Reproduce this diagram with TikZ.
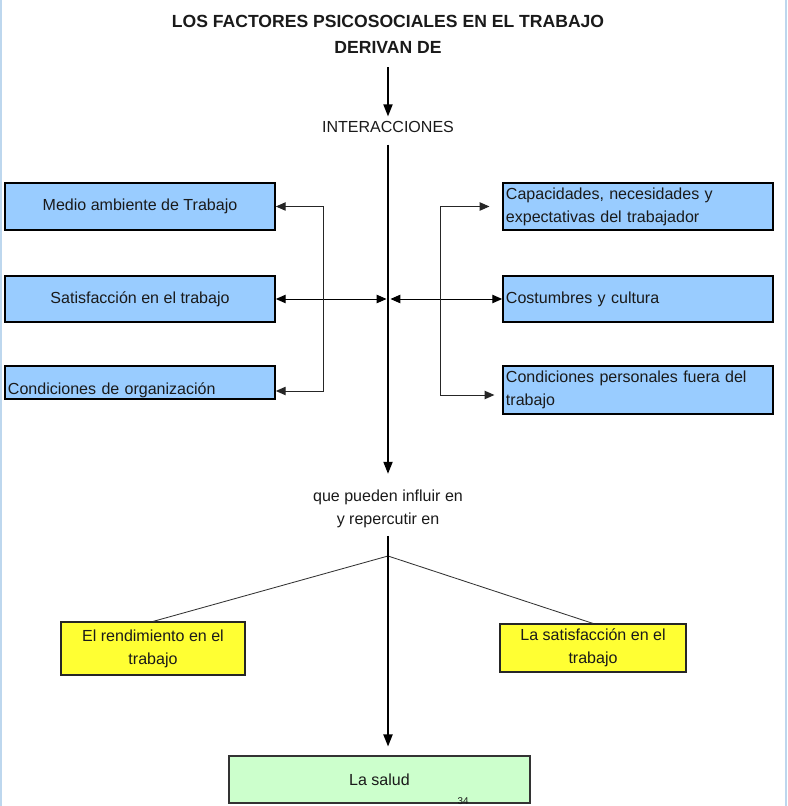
\documentclass[tikz,border=0pt]{standalone}
\usepackage{fontspec}
\setmainfont{Liberation Sans}
\usetikzlibrary{arrows.meta, positioning, calc}
\definecolor{boxblue}{HTML}{99CCFF}
\definecolor{boxyellow}{HTML}{FFFF33}
\definecolor{boxgreen}{HTML}{CCFFCC}
\definecolor{edgeblue}{HTML}{BDD7EE}
\definecolor{ink}{HTML}{1A1A1A}

\begin{document}
\begin{tikzpicture}[x=0.025cm, y=-0.025cm,
  >={Triangle[length=7pt, width=6pt]},
  txt/.style={text=ink, font=\fontsize{11.4}{16.4}\selectfont},
  bluebox/.style={txt, draw=black, line width=1.2pt, fill=boxblue, minimum width=6.75cm, inner sep=0pt},
  leftbox/.style={bluebox, text width=6.6cm, align=left},
  ybox/.style={txt, draw=black!85, line width=0.8pt, fill=boxyellow, align=center, inner sep=0pt},
  link/.style={->, line width=0.7pt, black!85},
  bothway/.style={<->, line width=0.7pt, black},
  spine/.style={line width=1pt, black},
  bigtip/.style={-{Triangle[length=8.5pt, width=6.5pt]}},
  branch/.style={line width=0.6pt, black!80}]

% Background
\useasboundingbox (0,0) rectangle (787,806);
\fill[white] (0,0) rectangle (787,806);
\draw[edgeblue, line width=1.5pt] (1,0) -- (1,806);
\draw[edgeblue, line width=1.5pt] (786,0) -- (786,806);

% Title
\node[text=ink, font=\fontsize{12.5}{18.5}\selectfont\bfseries, align=center] (title) at (388,34.5)
  {LOS FACTORES PSICOSOCIALES EN EL TRABAJO\\DERIVAN DE};
\node[txt] (inter) at (388,127) {INTERACCIONES};
\draw[spine, bigtip] ([yshift=-6pt]title.south) -- (inter.north);

% --- Left factors ---
\node[bluebox, minimum height=1.175cm] (medio) at (140,206.5) {Medio ambiente de Trabajo};
\node[bluebox, minimum height=1.15cm] (satisf) at (140,299) {Satisfacción en el trabajo};
\node[leftbox, minimum height=0.825cm, text height=17pt, text depth=0pt] (organiz) at (140,382.5) {Condiciones de organización};

% --- Right factors ---
\node[leftbox, minimum height=1.175cm] (capac) at (638,206.5) {Capacidades, necesidades y\\expectativas del trabajador};
\node[leftbox, minimum height=1.15cm] (costum) at (638,299) {Costumbres y cultura};
\node[leftbox, minimum height=1.2cm] (condpers) at (638,390) {Condiciones personales fuera del\\trabajo};

% Spine
\node[txt, align=center] (influye) at (388,509) {que pueden influir en\\y repercutir en};
\draw[spine, bigtip, shorten <=5pt, shorten >=8pt] (inter.south) -- (influye.north);

% Links to the spine
\coordinate (hubL) at (386.5,299);
\coordinate (hubR) at (390.5,299);
\coordinate (brL) at (323,299);
\coordinate (brR) at (440,299);
\draw[bothway] (satisf.east) -- (hubL);
\draw[bothway] (hubR) -- (costum.west);
\draw[link] (brL) |- (medio.east);
\draw[link] (brL) |- ($(organiz.east)+(0,8.5)$);
\draw[link, shorten >=9pt] (brR) |- (capac.west);
\draw[link, shorten >=5.5pt] (brR) |- ($(condpers.west)+(0,5)$);

% --- Effects ---
\node[ybox, minimum width=4.6cm, minimum height=1.325cm] (rend) at (153,648.5) {El rendimiento en el\\trabajo};
\node[ybox, minimum width=4.65cm, minimum height=1.2cm] (satlab) at (593,648) {La satisfacción en el\\trabajo};
\node[txt, draw=black!80, line width=0.8pt, fill=boxgreen, minimum width=7.525cm, minimum height=1.175cm] (salud) at (379.5,779.5) {La salud};
\node[text=ink, font=\fontsize{7}{8}\selectfont] (pagenum) at (463,801) {34};

\coordinate (fork) at (388,556);
\draw[branch] (fork) -- (rend.north);
\draw[branch] (fork) -- (satlab.north);
\draw[spine, bigtip, shorten <=2pt, shorten >=6.4pt] (influye.south) -- (influye.south |- salud.north);

\end{tikzpicture}
\end{document}
